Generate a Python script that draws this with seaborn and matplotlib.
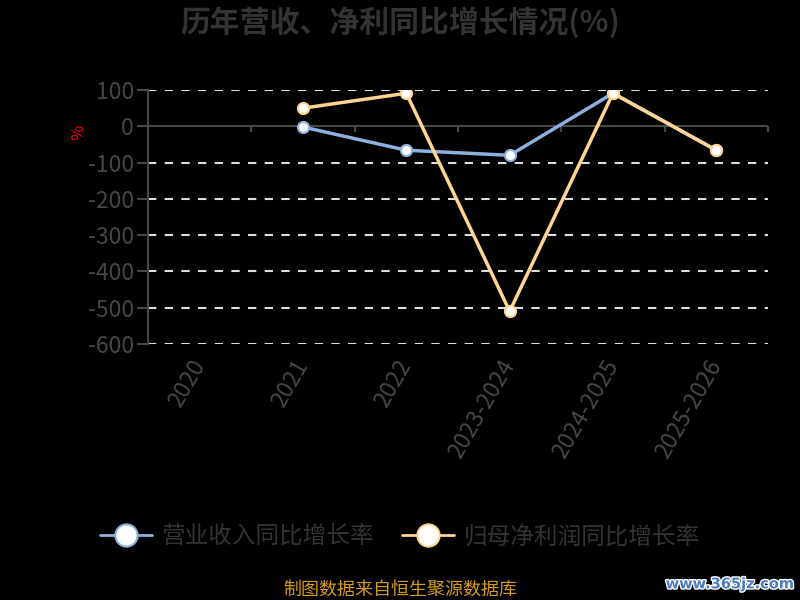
import matplotlib
matplotlib.use("Agg")
import matplotlib.pyplot as plt
import matplotlib.patheffects as pe
from matplotlib.lines import Line2D
import numpy as np
import pandas as pd
import seaborn as sns

categories = ["2020", "2021", "2022", "2023-2024", "2024-2025", "2025-2026"]
revenue_growth = [np.nan, -2, -66, -80, 91, -66]
profit_growth = [np.nan, 50, 91, -510, 91, -66]
y_ticks = [100, 0, -100, -200, -300, -400, -500, -600]

series_names = ["营业收入同比增长率", "归母净利润同比增长率"]
series_colors = ["#8db1de", "#ffd591"]

sns.set_theme(style="dark")
plt.rcParams["font.family"] = ["Noto Sans CJK SC", "DejaVu Sans"]
plt.rcParams["axes.unicode_minus"] = False

df = pd.DataFrame({
    "pos": list(range(len(categories))) * 2,
    "value": revenue_growth + profit_growth,
    "series": [series_names[0]] * len(categories) + [series_names[1]] * len(categories),
}).dropna()

fig = plt.figure(figsize=(8, 6), dpi=100, facecolor="black")
ax = fig.add_axes([0.185, 0.4267, 0.775, 0.4233])
ax.set_facecolor("black")

sns.lineplot(data=df, x="pos", y="value", hue="series", hue_order=series_names,
             palette=series_colors, marker="o", markersize=8, markerfacecolor="white",
             markeredgewidth=1.5, linewidth=2.5, ax=ax, legend=False, zorder=5)
for line, c in zip(ax.get_lines(), series_colors):
    line.set_markeredgecolor(c)

ax.set_xlim(-0.5, len(categories) - 0.5)
ax.set_ylim(-600, 100)
ax.set_yticks(y_ticks)
ax.set_yticklabels([str(v) for v in y_ticks], color="#474747", fontsize=16.5)
ax.set_xticks(range(len(categories)))
ax.set_xticklabels(categories, rotation=60, ha="right", va="center",
                   rotation_mode="anchor", color="#474747", fontsize=16.5)
ax.tick_params(axis="x", length=0, pad=13)
ax.tick_params(axis="y", length=8, color="#474747", width=1.5, left=True, pad=2)

ax.grid(axis="y", color="#dddddd", linestyle=(0, (4, 4)), linewidth=1.5)
ax.grid(axis="x", visible=False)
for gl in ax.yaxis.get_gridlines():
    if abs(gl.get_ydata()[0]) < 1e-9:
        gl.set_visible(False)

for s in ["top", "right", "bottom"]:
    ax.spines[s].set_visible(False)
ax.spines["left"].set_color("#474747")
ax.spines["left"].set_linewidth(1.5)

# zero line with category boundary ticks pointing down
ax.axhline(0, color="#474747", linewidth=1.5, zorder=2)
ax.vlines(np.arange(-0.5, len(categories), 1.0), -16, 0, color="#474747",
          linewidth=1.5, zorder=2, clip_on=False)

ax.set_xlabel("")
ax.set_ylabel("%", color="red", fontsize=12)
ax.yaxis.set_label_coords(-0.098, 0.835)

fig.text(0.5, 0.963, "历年营收、净利同比增长情况(%)", ha="center", va="center",
         fontsize=21.5, fontweight="bold", color="#333333")

handles = [Line2D([0], [0], color=c, linewidth=2, marker="o", markersize=16,
                  markerfacecolor="white", markeredgecolor=c, markeredgewidth=1.5)
           for c in series_colors]
leg = fig.legend(handles, series_names, loc="center", bbox_to_anchor=(0.5, 0.105),
                 ncol=2, frameon=False, fontsize=17, handlelength=2.2,
                 columnspacing=1.2, handletextpad=0.4)
for t in leg.get_texts():
    t.set_color("#333333")

fig.text(0.5, 0.017, "制图数据来自恒生聚源数据库", ha="center", va="center",
         fontsize=13, color="#d49a1c")
fig.text(0.993, 0.027, "www.365jz.com", ha="right", va="center", fontsize=10.5,
         fontweight="bold", color="#4a7cc0", family="DejaVu Sans",
         path_effects=[pe.withStroke(linewidth=2, foreground="white")])

fig.savefig("out.png", dpi=100, facecolor="black")
